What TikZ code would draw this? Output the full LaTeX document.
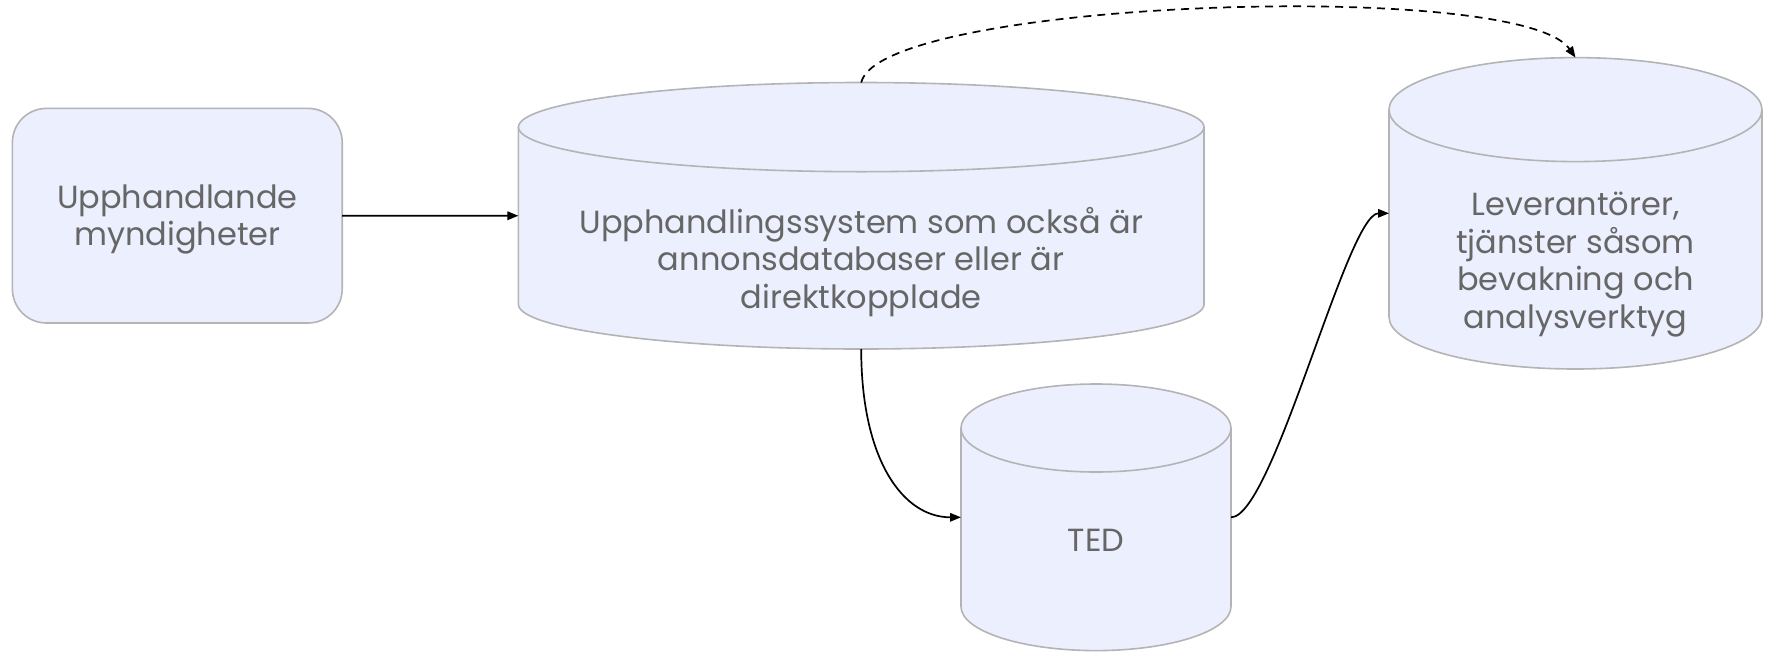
\documentclass[tikz,border=0pt]{standalone}
\usepackage{fontspec}
\setmainfont{Poppins}
\usetikzlibrary{arrows.meta,calc}

\definecolor{nodefill}{HTML}{ECEFFD}
\definecolor{nodeline}{HTML}{B4B4B4}
\definecolor{nodetext}{HTML}{666666}

\tikzset{
  labeltext/.style={text=nodetext, align=center, inner sep=0pt,
    font=\fontsize{32}{37.8}\selectfont},
  procbox/.style={labeltext, draw=nodeline, fill=nodefill, line width=1.6pt,
    rounded corners=34pt, outer sep=0pt},
  cylbox/.style={draw=none, inner sep=0pt, outer sep=0pt},
  cylbody/.style={draw=nodeline, fill=nodefill, line width=1.6pt},
  cylrim/.style={draw=nodeline, line width=1.6pt},
  flow/.style={draw=black, line width=1.7pt,
    -{Triangle[length=11pt,width=8.5pt]}},
  dashflow/.style={flow, dash pattern=on 8pt off 6pt},
}

% database cylinder: name, centre x, centre y (downwards), width, height, cap half-height
\newcommand\dbcylinder[6]{%
  \node[cylbox, minimum width=#4pt, minimum height=#5pt] (#1) at (#2,-#3) {};
  \path[cylbody] ($(#1.north west)+(0,-#6)$) -- ($(#1.south west)+(0,#6)$)
    arc[start angle=180, end angle=360, x radius=#4/2, y radius=#6]
    -- ($(#1.north east)+(0,-#6)$)
    arc[start angle=0, end angle=180, x radius=#4/2, y radius=#6] -- cycle;
  \path[cylrim] ($(#1.north west)+(0,-#6)$)
    arc[start angle=180, end angle=360, x radius=#4/2, y radius=#6];
}

\begin{document}
\begin{tikzpicture}[x=1pt,y=1pt]
  \useasboundingbox (0,0) rectangle (1771,-651);

  % procuring authorities
  \node[procbox, minimum width=329.8pt, minimum height=214.6pt] (auth)
    at (177.3,-215.7) {};
  \node[labeltext] (auth-text) at (177.3,-219.5) {Upphandlande\\myndigheter};

  % databases
  \dbcylinder{sys}{861.2}{215.75}{685.6}{266.5}{44.6}
  \dbcylinder{ted}{1096}{517.3}{270}{266.6}{44}
  \dbcylinder{lev}{1575.5}{213.3}{373}{311.4}{52}

  \node[labeltext] (sys-text) at (861.2,-262)
    {Upphandlingssystem som också är\\annonsdatabaser eller är\\direktkopplade};
  \node[labeltext] (ted-text) at (1096,-540) {TED};
  \node[labeltext] (lev-text) at (1575.5,-264.5)
    {Leverantörer,\\tjänster såsom\\bevakning och\\analysverktyg};

  % data flows
  \draw[flow] (auth.east) -- (sys.west);
  \draw[flow] (sys.south) .. controls +(0,-111) and +(-58,0) .. (ted.west);
  \draw[flow] (ted.east) .. controls +(42,0) and +(-42,0) .. (lev.west);
  \draw[dashflow] (sys.north) .. controls +(19,82.5) and +(-55.5,79.6) .. (lev.north);
\end{tikzpicture}
\end{document}
